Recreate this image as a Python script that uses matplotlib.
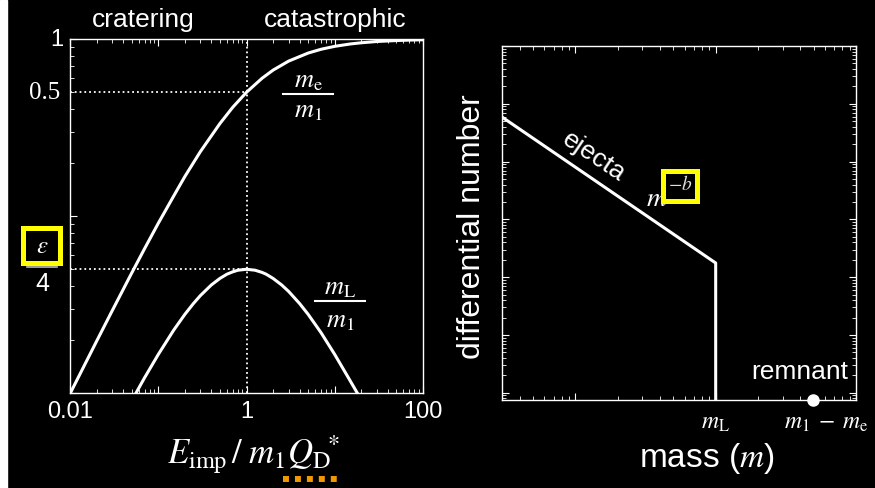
import matplotlib
matplotlib.use('Agg')
import matplotlib.pyplot as plt
from matplotlib.ticker import LogLocator, NullFormatter
from matplotlib.patches import Rectangle
from matplotlib.lines import Line2D

# left panel: fragment masses vs. impact energy
energy = [0.01, 0.02, 0.03, 0.05, 0.07, 0.1, 0.15, 0.2, 0.3, 0.5, 0.7, 1,
          1.5, 2, 3, 5, 7, 10, 15, 20, 30, 50, 70, 100]
ejecta_frac = [0.0099, 0.0196, 0.0291, 0.0476, 0.0654, 0.0909, 0.130, 0.167,
               0.231, 0.333, 0.412, 0.5, 0.6, 0.667, 0.75, 0.833, 0.875,
               0.909, 0.9375, 0.952, 0.968, 0.980, 0.986, 0.990]
energy_L = [0.056, 0.07, 0.1, 0.15, 0.2, 0.25, 0.3, 0.4, 0.5, 0.6, 0.7, 0.8,
            1, 1.25, 1.5, 1.67, 2, 2.5, 3, 4, 5, 7, 10, 14, 18]
largest_frac = [0.0100, 0.0122, 0.0165, 0.0227, 0.0278, 0.0320, 0.0355,
                0.0408, 0.0444, 0.0469, 0.0484, 0.0494, 0.05, 0.0494, 0.048,
                0.0469, 0.0444, 0.0408, 0.0375, 0.0320, 0.0278, 0.0219,
                0.0165, 0.0124, 0.0100]
eps_quarter = 0.05
half = 0.5

# right panel: size distribution of ejecta + remnant
ejecta_mass = [3, 100, 100]
ejecta_number = [5.9e4, 176, 0.1]
remnant_mass = [490]
remnant_number = [0.75]

W, H = 875, 488
SANS = 'Liberation Sans'
SERIF = 'Liberation Serif'
plt.rcParams['mathtext.fontset'] = 'stix'


def fx(px):
    return px / W


def fy(py):
    return 1 - py / H


fig = plt.figure(figsize=(W / 100, H / 100), dpi=100, facecolor='black')
fig.patches.append(Rectangle((0, 0), fx(7), 1, transform=fig.transFigure,
                             color='white', zorder=0))


def style_axes(ax):
    ax.set_facecolor('black')
    for s in ax.spines.values():
        s.set_color('white')
        s.set_linewidth(1.0)
    ax.tick_params(which='both', direction='in', colors='white')
    ax.tick_params(which='major', length=5, width=0.8)
    ax.tick_params(which='minor', length=3, width=0.6)


# ---------------- left panel ----------------
ax1 = fig.add_axes([fx(70), fy(393), fx(353), 354 / H])
style_axes(ax1)
ax1.set_xscale('log')
ax1.set_yscale('log')
ax1.set_xlim(0.01, 100)
ax1.set_ylim(0.01, 1)

ax1.plot(energy, ejecta_frac, color='white', lw=2.2)
ax1.plot(energy_L, largest_frac, color='white', lw=2.2)
ax1.axvline(1, color='white', lw=1.3, ls=':')
ax1.plot([0.01, 1], [half, half], color='white', lw=1.3, ls=':')
ax1.plot([0.01, 1], [eps_quarter, eps_quarter], color='white', lw=1.3, ls=':')

ax1.set_xticks([0.01, 0.1, 1, 10, 100])
ax1.set_xticklabels(['0.01', '', '1', '', '100'], fontsize=17, family=SANS)
ax1.xaxis.set_minor_locator(LogLocator(base=10, subs=range(2, 10), numticks=20))
ax1.xaxis.set_minor_formatter(NullFormatter())
ax1.set_yticks([0.01, 0.1, 1])
ax1.set_yticklabels([])
ax1.yaxis.set_minor_locator(LogLocator(base=10, subs=range(2, 10), numticks=20))
ax1.yaxis.set_minor_formatter(NullFormatter())
ax1.tick_params(axis='x', which='both', top=True, pad=6)
ax1.tick_params(axis='y', which='both', right=False)

# y labels
fig.text(fx(63), fy(40), '1', color='white', fontsize=17, family=SANS,
         ha='right', va='center')
fig.text(fx(60), fy(93), '0.5', color='white', fontsize=18, family=SERIF,
         ha='right', va='center')
fig.text(fx(42), fy(246), r'$\varepsilon$', color='white', fontsize=18,
         ha='center', va='center')
fig.lines.append(Line2D([fx(27), fx(57)], [fy(267), fy(267)], color='#bbbbbb',
                        lw=1.2, transform=fig.transFigure))
fig.text(fx(42), fy(284), '4', color='white', fontsize=18, family=SANS,
         ha='center', va='center')
fig.patches.append(Rectangle((fx(22.5), fy(262.5)), fx(37), 35 / H,
                             transform=fig.transFigure, fill=False,
                             edgecolor='#ffff00', lw=3.6, zorder=5))

# fraction labels
for xc, yn, yl, yd, num in [(308, 80, 94, 110, r'$m_{\rm e}$'),
                            (340, 287, 301, 320, r'$m_{\rm L}$')]:
    fig.text(fx(xc), fy(yn), num, color='white', fontsize=19,
             ha='center', va='center')
    fig.lines.append(Line2D([fx(xc - 25), fx(xc + 25)], [fy(yl), fy(yl)],
                            color='white', lw=1.5, transform=fig.transFigure))
    fig.text(fx(xc), fy(yd), r'$m_1$', color='white', fontsize=19,
             ha='center', va='center')

fig.text(fx(143), fy(20), 'cratering', color='white', fontsize=19,
         family=SANS, ha='center', va='center')
fig.text(fx(335), fy(20), 'catastrophic', color='white', fontsize=19,
         family=SANS, ha='center', va='center')

fig.text(fx(253), fy(455), r'$E_{\rm imp}\,/\;m_1 Q_{\rm D}\!\!{}^*$',
         color='white', fontsize=25, ha='center', va='center')
fig.lines.append(Line2D([fx(283), fx(337)], [fy(479), fy(479)],
                        color='#f39800', lw=4.3, dashes=(1, 1),
                        dash_capstyle='butt', transform=fig.transFigure))

# ---------------- right panel ----------------
ax2 = fig.add_axes([fx(502), fy(400), fx(354), 354 / H])
style_axes(ax2)
ax2.set_xscale('log')
ax2.set_yscale('log')
ax2.set_xlim(3, 1000)
ax2.set_ylim(0.75, 1e6)
for axis in (ax2.xaxis, ax2.yaxis):
    axis.set_major_locator(LogLocator(base=10, numticks=20))
    axis.set_minor_locator(LogLocator(base=10, subs=range(2, 10), numticks=20))
    axis.set_major_formatter(NullFormatter())
    axis.set_minor_formatter(NullFormatter())
ax2.tick_params(which='both', top=True, right=True)

ax2.plot(ejecta_mass, ejecta_number, color='white', lw=2.2)
ax2.plot(remnant_mass, remnant_number, 'o', color='white', ms=8,
         clip_on=False, zorder=5)

ax2.text(0.258, 0.686, 'ejecta', transform=ax2.transAxes, rotation=-34,
         color='white', fontsize=19, family=SANS, ha='center', va='center')
fig.text(fx(657), fy(198), r'$m$', color='white', fontsize=20,
         ha='center', va='center')
fig.patches.append(Rectangle((fx(662.5), fy(200.5)), fx(34), 30 / H,
                             transform=fig.transFigure, facecolor='black',
                             edgecolor='#ffff00', lw=3.6, zorder=5))
fig.text(fx(680), fy(185), r'$-b$', color='#dddddd', fontsize=14,
         ha='center', va='center', zorder=6)

fig.text(fx(800), fy(372), 'remnant', color='white', fontsize=19,
         family=SANS, ha='center', va='center')
fig.text(fx(715), fy(422), r'$m_{\rm L}$', color='white', fontsize=17,
         ha='center', va='center')
fig.text(fx(826), fy(422), r'$m_1\;-\;m_{\rm e}$', color='white', fontsize=17,
         ha='center', va='center')

fig.text(fx(472), fy(227), 'differential number', color='white',
         fontsize=23, family=SANS, rotation=90, ha='center', va='center')
fig.text(fx(707), fy(458), r'mass ($m$)', color='white', fontsize=24,
         family=SANS, ha='center', va='center')

fig.savefig('out.png', dpi=100, facecolor='black')
